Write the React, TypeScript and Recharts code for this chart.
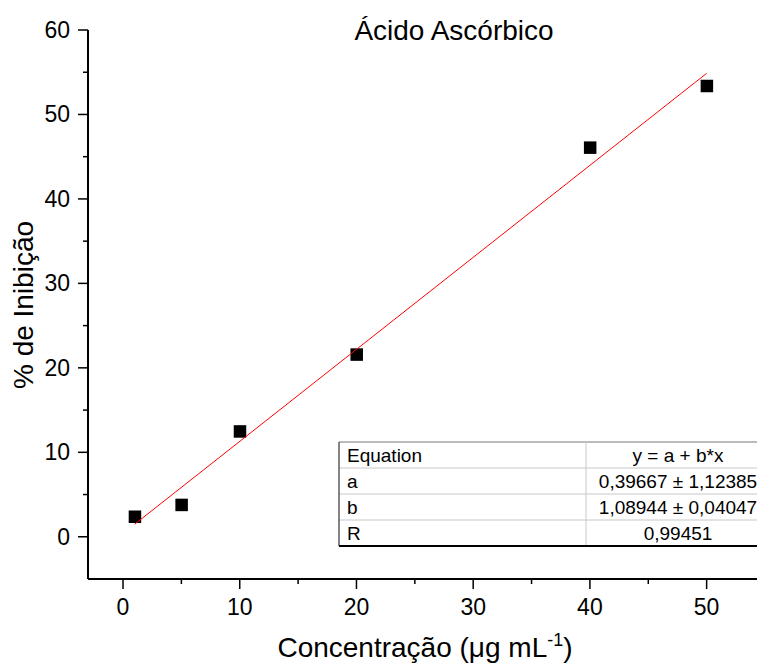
import { ScatterChart, Scatter, XAxis, YAxis } from "recharts";

const concentrations = [1, 5, 10, 20, 40, 50];
const inhibition = [2.4, 3.8, 12.5, 21.6, 46.1, 53.4];

// ends of the fitted line y = a + b*x
const fitX = [1, 50];
const fitY = [1.49, 54.87];

const xTicks = [0, 5, 10, 15, 20, 25, 30, 35, 40, 45, 50];
const yTicks = [0, 5, 10, 15, 20, 25, 30, 35, 40, 45, 50, 55, 60];

const tableRows = [
  ["Equation", "y = a + b*x"],
  ["a", "0,39667 ± 1,12385"],
  ["b", "1,08944 ± 0,04047"],
  ["R", "0,99451"],
];

const points = concentrations.map((x, i) => ({ x, y: inhibition[i] }));
const fitData = fitX.map((x, i) => ({ x, y: fitY[i] }));

const FONT = "'Liberation Sans', Arial, sans-serif";

const XTick = (props: any) => {
  const { x, y, payload } = props;
  const major = payload.value % 10 === 0;
  return (
    <g>
      <line x1={x} x2={x} y1={y} y2={y + (major ? 10 : 5)} stroke="#000" strokeWidth={1.5} />
      {major && (
        <text x={x} y={y + 36} textAnchor="middle" fontSize={23} fontFamily={FONT} fill="#000">
          {payload.value}
        </text>
      )}
    </g>
  );
};

const YTick = (props: any) => {
  const { x, y, payload } = props;
  const major = payload.value % 10 === 0;
  return (
    <g>
      <line x1={x} x2={x - (major ? 10 : 5)} y1={y} y2={y} stroke="#000" strokeWidth={1.5} />
      {major && (
        <text x={x - 18} y={y + 8} textAnchor="end" fontSize={23} fontFamily={FONT} fill="#000">
          {payload.value}
        </text>
      )}
    </g>
  );
};

const Square = (props: any) => (
  <rect x={props.cx - 6} y={props.cy - 6} width={12.5} height={12.5} fill="#000" />
);

function FitTable() {
  const left = 339;
  const top = 442;
  const split = 586;
  const right = 770;
  const rowH = 26;
  return (
    <g fontFamily={FONT} fontSize={19} fill="#000">
      <rect x={left} y={top} width={right - left} height={rowH * 4} fill="#fff" />
      {tableRows.map((r, i) => (
        <g key={r[0]}>
          {i > 0 && (
            <line x1={left} x2={right} y1={top + rowH * i} y2={top + rowH * i} stroke="#c8c8c8" strokeWidth={1} />
          )}
          <text x={left + 8} y={top + rowH * i + 20}>{r[0]}</text>
          <text x={(split + right) / 2} y={top + rowH * i + 20} textAnchor="middle">{r[1]}</text>
        </g>
      ))}
      <line x1={left} x2={right} y1={top} y2={top} stroke="#777" strokeWidth={1} />
      <line x1={split} x2={split} y1={top} y2={top + rowH * 4} stroke="#c8c8c8" strokeWidth={1} />
      <line x1={left} x2={left} y1={top} y2={top + rowH * 4} stroke="#333" strokeWidth={1.2} />
      <line x1={left} x2={right} y1={top + rowH * 4} y2={top + rowH * 4} stroke="#000" strokeWidth={2} />
    </g>
  );
}

export default function App() {
  return (
    <div style={{ position: "absolute", left: 0, top: 0, width: 757, height: 668, overflow: "hidden", background: "#fff" }}>
      <ScatterChart width={770} height={668} margin={{ top: 30, right: 5, bottom: 0, left: 28 }}>
        <XAxis
          type="number"
          dataKey="x"
          domain={[-3, 55]}
          ticks={xTicks}
          height={89}
          tickSize={0}
          tickMargin={0}
          tickLine={false}
          tick={<XTick />}
          axisLine={{ stroke: "#000", strokeWidth: 2 }}
          allowDataOverflow
        />
        <YAxis
          type="number"
          dataKey="y"
          domain={[-5, 60]}
          ticks={yTicks}
          width={60}
          tickSize={0}
          tickMargin={0}
          tickLine={false}
          tick={<YTick />}
          axisLine={{ stroke: "#000", strokeWidth: 2 }}
          allowDataOverflow
        />
        <Scatter data={points} shape={<Square />} isAnimationActive={false} />
        <Scatter
          data={fitData}
          line={{ stroke: "#ff0000", strokeWidth: 1 }}
          shape={() => <g />}
          isAnimationActive={false}
        />
      </ScatterChart>
      <svg width={757} height={668} style={{ position: "absolute", left: 0, top: 0, pointerEvents: "none" }}>
        <text x={454} y={40} textAnchor="middle" fontSize={28} fontFamily={FONT} fill="#000">
          Ácido Ascórbico
        </text>
        <text
          transform="translate(33,305) rotate(-90)"
          textAnchor="middle"
          fontSize={28}
          fontFamily={FONT}
          fill="#000"
        >
          % de Inibição
        </text>
        <text x={425} y={657} textAnchor="middle" fontSize={28} fontFamily={FONT} fill="#000">
          Concentração (μg mL<tspan dy={-11} fontSize={18}>-1</tspan><tspan dy={11}>)</tspan>
        </text>
        <FitTable />
      </svg>
    </div>
  );
}
